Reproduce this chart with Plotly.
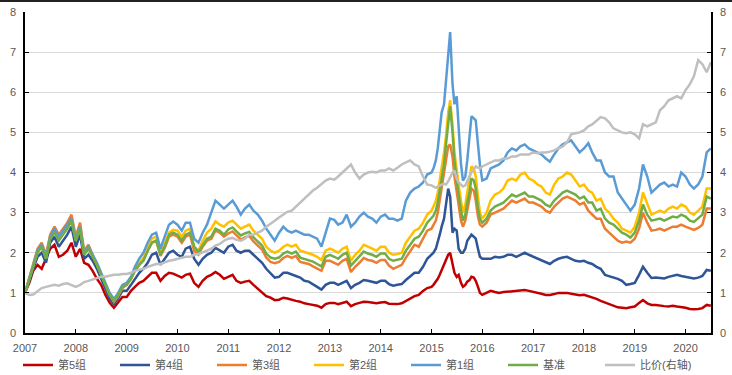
import pandas as pd
import plotly.graph_objects as go

# x grid: monthly, with half-monthly detail for 2015
dates = (list(pd.date_range("2007-01-01", "2014-12-01", freq="MS")) +
         list(pd.date_range("2015-01-01", "2015-12-15", freq="SMS")) +
         list(pd.date_range("2016-01-01", "2020-07-01", freq="MS")))

g5 = [1.0, 1.25, 1.55, 1.7, 1.6, 1.85, 2.1, 2.2, 1.9, 1.95, 2.05, 2.25,
      1.9, 2.1, 1.75, 1.7, 1.55, 1.35, 1.2, 0.95, 0.75, 0.63, 0.78, 0.9,
      0.9, 1.05, 1.15, 1.25, 1.3, 1.4, 1.5, 1.5, 1.3, 1.42, 1.5, 1.48,
      1.42, 1.38, 1.45, 1.48, 1.25, 1.15, 1.3, 1.4, 1.45, 1.52, 1.45, 1.35,
      1.4, 1.45, 1.3, 1.25, 1.28, 1.3, 1.2, 1.1, 1.02, 0.92, 0.88, 0.82,
      0.83, 0.88, 0.86, 0.82, 0.8, 0.78, 0.74, 0.72, 0.7, 0.68, 0.63, 0.72,
      0.75, 0.75, 0.72, 0.75, 0.78, 0.67, 0.72, 0.75, 0.78, 0.77, 0.76, 0.74,
      0.76, 0.77, 0.73, 0.72, 0.72, 0.74, 0.8, 0.86, 0.92, 0.95, 1.05, 1.12,
      1.15, 1.2, 1.27, 1.35, 1.45, 1.57, 1.68, 1.8, 1.95, 2.0, 1.7, 1.5,
      1.4, 1.45, 1.25, 1.15, 1.2, 1.28, 1.32, 1.4, 1.38, 1.3, 1.15, 1.0,
      0.95, 1.0, 1.05, 1.02, 1.0, 1.02, 1.03, 1.05, 1.05, 1.07, 1.07, 1.05,
      1.03, 1.0, 0.98, 0.95, 0.95, 0.97, 1.0, 1.0, 1.0, 0.98, 0.96, 0.94,
      0.95, 0.92, 0.88, 0.85, 0.8, 0.76, 0.74, 0.7, 0.64, 0.63, 0.62, 0.64,
      0.66, 0.75, 0.82, 0.74, 0.7, 0.7, 0.68, 0.67, 0.66, 0.68, 0.66, 0.65,
      0.63, 0.6, 0.59, 0.6, 0.62, 0.7, 0.68]

g4 = [1.0, 1.3, 1.6, 1.9, 2.0, 1.75, 2.25, 2.4, 2.15, 2.3, 2.45, 2.65,
      2.15, 2.45, 1.85, 1.95, 1.8, 1.6, 1.35, 1.1, 0.85, 0.72, 0.87, 1.05,
      1.05, 1.2, 1.35, 1.5, 1.6, 1.75, 1.95, 2.0, 1.7, 1.85, 2.0, 2.05,
      1.95, 1.9, 2.1, 2.15, 1.85, 1.7, 1.85, 1.95, 2.0, 2.12, 2.05, 2.0,
      2.15, 2.2, 2.05, 2.0, 2.05, 2.05, 1.95, 1.85, 1.75, 1.6, 1.5, 1.38,
      1.4, 1.5, 1.5, 1.45, 1.42, 1.38, 1.3, 1.28, 1.22, 1.15, 1.08, 1.2,
      1.25, 1.25, 1.2, 1.25, 1.3, 1.12, 1.2, 1.25, 1.32, 1.3, 1.28, 1.25,
      1.3, 1.3, 1.22, 1.18, 1.2, 1.22, 1.32, 1.4, 1.5, 1.5, 1.65, 1.85,
      1.95, 2.0, 2.1, 2.25, 2.45, 2.65, 2.85, 3.2, 3.6, 3.4, 2.5, 2.6,
      2.55, 2.1, 2.0, 2.0, 2.1, 2.3, 2.4, 2.45, 2.4, 2.35, 2.1, 1.9,
      1.85, 1.85, 1.85, 1.9, 1.88, 1.9, 1.95, 1.95, 1.9, 1.95, 2.0, 1.95,
      1.9, 1.85, 1.8, 1.75, 1.72, 1.8, 1.85, 1.88, 1.9, 1.85, 1.8, 1.78,
      1.8, 1.75, 1.72, 1.65, 1.6, 1.45, 1.42, 1.38, 1.35, 1.3, 1.2, 1.22,
      1.25, 1.45, 1.65, 1.5, 1.37, 1.38, 1.37, 1.36, 1.4, 1.42, 1.45, 1.42,
      1.4, 1.38, 1.36, 1.38, 1.42, 1.57, 1.55]

g3 = [1.0, 1.4, 1.75, 2.1, 2.25, 1.95, 2.45, 2.65, 2.45, 2.6, 2.75, 2.95,
      2.4, 2.75, 2.05, 2.2, 1.95, 1.7, 1.45, 1.2, 0.95, 0.78, 0.92, 1.12,
      1.2, 1.35, 1.55, 1.7, 1.82, 2.05, 2.25, 2.3, 1.92, 2.12, 2.4, 2.45,
      2.4, 2.25, 2.4, 2.45, 2.05, 1.95, 2.15, 2.3, 2.35, 2.55, 2.5, 2.4,
      2.48, 2.53, 2.43, 2.33, 2.38, 2.42, 2.28, 2.18, 2.08, 1.88, 1.77, 1.74,
      1.77, 1.87, 1.92, 1.87, 1.92, 1.77, 1.74, 1.72, 1.66, 1.6, 1.55, 1.8,
      1.8, 1.75, 1.7, 1.8, 1.85, 1.52, 1.65, 1.75, 1.87, 1.82, 1.8, 1.75,
      1.82, 1.82, 1.68, 1.6, 1.65, 1.7, 1.88, 2.05, 2.2, 2.15, 2.35, 2.55,
      2.6, 2.68, 2.8, 3.0, 3.3, 3.6, 3.9, 4.3, 4.65, 4.7, 4.4, 3.9,
      3.5, 3.1, 2.8, 2.65, 2.8, 3.05, 3.3, 3.6, 3.55, 3.3, 2.9, 2.7,
      2.65, 2.75, 2.95, 3.0, 3.05, 3.1, 3.2, 3.3, 3.25, 3.3, 3.35, 3.25,
      3.25, 3.2, 3.15, 3.05, 3.0, 3.15, 3.25, 3.35, 3.4, 3.35, 3.3, 3.2,
      3.25, 3.05, 2.95, 2.85, 2.85, 2.6, 2.5, 2.4, 2.3, 2.25, 2.28, 2.25,
      2.35, 2.6, 3.0, 2.75, 2.55, 2.57, 2.6, 2.55, 2.6, 2.65, 2.65, 2.7,
      2.65, 2.6, 2.57, 2.62, 2.7, 3.1, 3.1]

g2 = [1.0, 1.37, 1.68, 2.02, 2.17, 1.87, 2.37, 2.55, 2.35, 2.5, 2.65, 2.82,
      2.32, 2.62, 1.97, 2.12, 1.92, 1.72, 1.47, 1.22, 0.97, 0.82, 0.97, 1.17,
      1.22, 1.37, 1.58, 1.75, 1.87, 2.12, 2.35, 2.4, 2.02, 2.22, 2.5, 2.57,
      2.55, 2.4, 2.55, 2.6, 2.15, 2.05, 2.3, 2.5, 2.6, 2.78, 2.7, 2.65,
      2.75, 2.8, 2.7, 2.6, 2.65, 2.7, 2.55, 2.45, 2.35, 2.15, 2.05, 2.0,
      2.05, 2.15, 2.2, 2.15, 2.2, 2.05, 2.02, 2.0, 1.95, 1.9, 1.82, 2.05,
      2.1, 2.05, 2.0, 2.1, 2.15, 1.8, 1.95, 2.05, 2.2, 2.15, 2.1, 2.05,
      2.15, 2.15, 2.0, 1.95, 1.97, 2.0, 2.25, 2.4, 2.55, 2.6, 2.75, 2.95,
      3.05, 3.15, 3.3, 3.5, 3.8, 4.2, 4.5, 4.9, 5.5, 5.8, 5.2, 4.5,
      4.0, 3.7, 3.3, 3.0, 3.2, 3.5, 3.8, 4.15, 4.1, 3.9, 3.4, 3.0,
      2.85, 3.0, 3.3, 3.45, 3.5, 3.6, 3.8, 3.85, 3.8, 3.95, 4.0, 3.85,
      3.8, 3.7, 3.65, 3.5, 3.45, 3.7, 3.85, 3.9, 4.0, 3.95, 3.8, 3.65,
      3.7, 3.55, 3.5, 3.3, 3.35, 3.1, 3.0, 2.85, 2.75, 2.6, 2.55, 2.5,
      2.65, 3.0, 3.5, 3.2, 2.95, 3.0, 3.05, 3.0, 3.1, 3.15, 3.1, 3.2,
      3.15, 3.0, 2.95, 3.05, 3.15, 3.6, 3.6]

g1 = [1.0, 1.38, 1.7, 2.05, 2.2, 1.9, 2.4, 2.6, 2.4, 2.55, 2.7, 2.85,
      2.35, 2.65, 2.0, 2.15, 1.95, 1.75, 1.5, 1.25, 1.0, 0.85, 1.0, 1.2,
      1.25, 1.4, 1.65, 1.85, 2.0, 2.25, 2.45, 2.5, 2.1, 2.4, 2.7, 2.78,
      2.7, 2.55, 2.75, 2.75, 2.35, 2.25, 2.5, 2.7, 3.0, 3.3, 3.2, 3.1,
      3.2, 3.3, 3.15, 2.95, 3.1, 3.2, 3.05, 2.95, 2.8, 2.6, 2.45, 2.3,
      2.5, 2.65, 2.55, 2.5, 2.55, 2.5, 2.45, 2.45, 2.4, 2.35, 2.15, 2.5,
      2.85, 2.82, 2.7, 2.75, 2.95, 2.65, 2.75, 2.9, 3.0, 2.9, 2.85, 2.75,
      2.9, 2.95, 2.85, 2.85, 2.8, 2.85, 3.3, 3.5, 3.6, 3.65, 3.75, 3.95,
      4.0, 4.1, 4.3, 4.6, 5.0, 5.5, 5.7, 6.3, 7.1, 7.5, 6.2, 5.7,
      5.9, 5.0, 4.2, 3.8, 3.9, 4.3, 5.0, 5.4, 5.35, 5.3, 4.7, 4.2,
      3.8, 3.85, 4.1, 4.15, 4.2, 4.3, 4.5, 4.6, 4.55, 4.65, 4.7, 4.6,
      4.55, 4.5, 4.45, 4.35, 4.27, 4.45, 4.6, 4.7, 4.75, 4.8, 4.65, 4.5,
      4.6, 4.73, 4.5, 4.3, 4.3, 4.0, 3.9, 3.9, 3.5, 3.35, 3.2, 3.05,
      3.2, 3.6, 4.2, 3.9, 3.5, 3.6, 3.7, 3.75, 3.65, 3.7, 3.65, 4.0,
      3.9, 3.7, 3.6, 3.7, 3.9, 4.5, 4.6]

bench = [1.0, 1.35, 1.65, 2.0, 2.15, 1.85, 2.35, 2.5, 2.3, 2.45, 2.6, 2.8,
         2.3, 2.6, 1.95, 2.1, 1.9, 1.7, 1.45, 1.2, 0.95, 0.8, 0.95, 1.15,
         1.2, 1.35, 1.55, 1.7, 1.8, 2.05, 2.25, 2.3, 1.95, 2.15, 2.45, 2.5,
         2.45, 2.3, 2.45, 2.5, 2.15, 2.02, 2.2, 2.35, 2.4, 2.6, 2.55, 2.45,
         2.58, 2.63, 2.53, 2.43, 2.48, 2.52, 2.38, 2.28, 2.18, 1.98, 1.88, 1.85,
         1.88, 1.98, 2.03, 1.98, 2.03, 1.88, 1.85, 1.83, 1.78, 1.72, 1.66, 1.9,
         1.95, 1.9, 1.85, 1.95, 2.0, 1.68, 1.8, 1.9, 2.03, 1.98, 1.95, 1.9,
         1.98, 1.98, 1.85, 1.8, 1.82, 1.85, 2.05, 2.2, 2.35, 2.4, 2.55, 2.75,
         2.85, 2.92, 3.05, 3.25, 3.55, 3.9, 4.2, 4.7, 5.3, 5.65, 5.0, 4.3,
         3.8, 3.4, 3.05, 2.8, 2.95, 3.25, 3.5, 3.85, 3.8, 3.6, 3.1, 2.85,
         2.75, 2.85, 3.05, 3.15, 3.2, 3.25, 3.35, 3.45, 3.4, 3.45, 3.5, 3.4,
         3.4, 3.35, 3.3, 3.2, 3.15, 3.3, 3.4, 3.5, 3.55, 3.5, 3.45, 3.35,
         3.4, 3.25, 3.25, 3.05, 3.1, 2.85, 2.75, 2.7, 2.6, 2.5, 2.45, 2.38,
         2.5, 2.8, 3.2, 2.95, 2.8, 2.82, 2.85, 2.8, 2.85, 2.9, 2.88, 2.95,
         2.9, 2.8, 2.77, 2.85, 2.95, 3.4, 3.35]

ratio = [1.0, 0.95, 0.96, 1.05, 1.12, 1.15, 1.18, 1.2, 1.18, 1.22, 1.24, 1.2,
         1.15, 1.2, 1.27, 1.3, 1.33, 1.37, 1.4, 1.4, 1.42, 1.45, 1.45, 1.47,
         1.47, 1.5, 1.55, 1.57, 1.6, 1.65, 1.68, 1.72, 1.72, 1.76, 1.8, 1.82,
         1.85, 1.88, 1.9, 1.9, 1.95, 1.97, 2.0, 2.05, 2.1, 2.18, 2.22, 2.3,
         2.35, 2.37, 2.32, 2.3, 2.35, 2.45, 2.45, 2.5, 2.55, 2.65, 2.72, 2.8,
         2.88, 2.95, 3.02, 3.05, 3.15, 3.25, 3.35, 3.45, 3.55, 3.62, 3.72, 3.8,
         3.85, 3.82, 3.9, 4.0, 4.1, 4.2, 4.0, 3.85, 3.95, 4.0, 4.02, 4.0,
         4.05, 4.05, 4.1, 4.05, 4.12, 4.2, 4.25, 4.3, 4.2, 4.15, 3.9, 3.7,
         3.68, 3.65, 3.62, 3.65, 3.68, 3.7, 3.72, 3.7, 3.78, 3.9, 4.0, 4.05,
         3.85, 3.75, 3.7, 3.65, 3.68, 3.8, 3.9, 4.0, 4.1, 4.15, 4.12, 4.1,
         4.15, 4.2, 4.25, 4.3, 4.3, 4.35, 4.35, 4.4, 4.4, 4.45, 4.45, 4.45,
         4.5, 4.48, 4.5, 4.5, 4.52, 4.55, 4.6, 4.65, 4.75, 4.95, 4.98, 5.0,
         5.05, 5.15, 5.2, 5.3, 5.38, 5.35, 5.25, 5.1, 5.05, 5.0, 4.98, 5.0,
         4.95, 4.85, 5.2, 5.15, 5.2, 5.25, 5.55, 5.65, 5.8, 5.85, 5.9, 5.85,
         6.05, 6.2, 6.4, 6.8, 6.7, 6.5, 6.75]

names = ["第5组", "第4组", "第3组", "第2组", "第1组", "基准", "比价(右轴)"]
colors = ["#C00000", "#2F5597", "#ED7D31", "#FFC000", "#5B9BD5", "#70AD47", "#BFBFBF"]
series = [g5, g4, g3, g2, g1, bench, ratio]

fig = go.Figure()
for nm, col, ys in zip(names, colors, series):
    fig.add_trace(go.Scatter(
        x=dates, y=ys, mode="lines", name=nm,
        line=dict(color=col, width=2.5),
        yaxis="y2" if nm.startswith("比价") else "y",
    ))

axis_common = dict(range=[0, 8], dtick=1, ticks="inside", ticklen=4, tickcolor="#000",
                   showline=True, linecolor="#000", linewidth=1.5, zeroline=False,
                   tickfont=dict(size=11, color="#595959"))

fig.update_layout(
    width=732, height=373,
    margin=dict(l=25, r=21, t=10, b=42, autoexpand=False),
    paper_bgcolor="white", plot_bgcolor="white",
    font=dict(family="Arial, 'Liberation Sans', 'Noto Sans CJK SC', sans-serif",
              size=11, color="#595959"),
    legend=dict(orientation="h", x=0.0246, xanchor="left", xref="container",
                y=-0.0997, yanchor="middle", yref="paper",
                entrywidth=52, entrywidthmode="pixels", itemwidth=30,
                font=dict(size=11, color="#595959"), bgcolor="rgba(0,0,0,0)"),
    xaxis=dict(type="date", range=["2007-01-01", "2020-07-02"], dtick="M12",
               tick0="2007-01-01", tickformat="%Y", ticks="inside", ticklen=4,
               tickcolor="#000", showline=True, linecolor="#000", linewidth=1.5,
               showgrid=False, zeroline=False, ticklabelstandoff=4,
               tickfont=dict(size=11, color="#595959")),
    yaxis=dict(showgrid=True, gridcolor="#D9D9D9", gridwidth=1,
               ticklabelstandoff=5, **axis_common),
    yaxis2=dict(overlaying="y", side="right", showgrid=False,
                ticklabelstandoff=5, **axis_common),
)

fig.write_html(
    "out.html", config={"displayModeBar": False},
    post_script=("document.body.style.margin='0';document.body.style.padding='0';"
                 "var gd=document.getElementById('{plot_id}');"
                 "gd.style.borderTop='2px solid #222';"),
)
